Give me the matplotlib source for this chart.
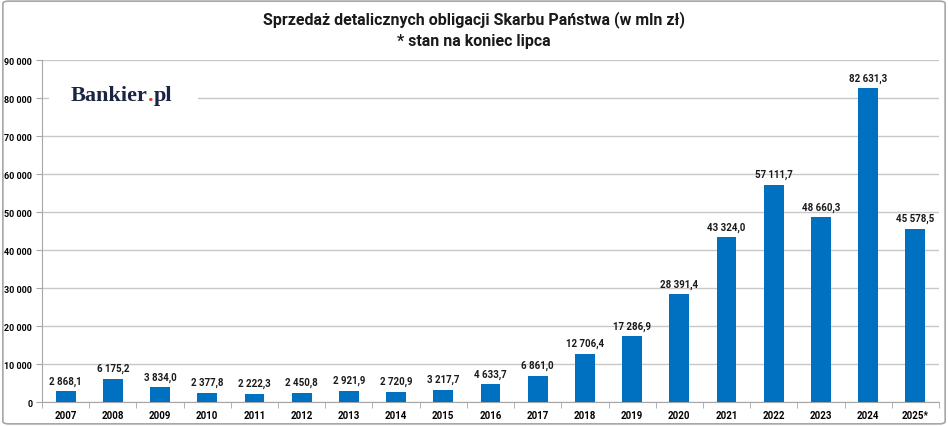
import matplotlib.pyplot as plt
from matplotlib.patches import FancyBboxPatch
import numpy as np

years = ['2007', '2008', '2009', '2010', '2011', '2012', '2013', '2014', '2015', '2016',
         '2017', '2018', '2019', '2020', '2021', '2022', '2023', '2024', '2025*']
sales = [2868.1, 6175.2, 3834.0, 2377.8, 2222.3, 2450.8, 2921.9, 2720.9, 3217.7, 4633.7,
         6861.0, 12706.4, 17286.9, 28391.4, 43324.0, 57111.7, 48660.3, 82631.3, 45578.5]
yticks = list(range(0, 90001, 10000))

plt.rcParams['font.family'] = ['Roboto', 'DejaVu Sans']


def fmt_num(v, dec):
    s = f'{v:,.{dec}f}'
    return s.replace(',', ' ').replace('.', ',')


fig = plt.figure(figsize=(9.48, 4.27), dpi=100)
fig.patches.append(FancyBboxPatch((0.003, 0.005), 0.994, 0.99, boxstyle='round,pad=0,rounding_size=0.006',
                                  transform=fig.transFigure, facecolor='white', edgecolor='#a6a6a6',
                                  linewidth=1.2, zorder=-10))
ax = fig.add_axes([0.0443, 0.0562, 0.9462, 0.8008])
ax.set_facecolor('none')

x = np.arange(len(years))
ax.bar(x, sales, width=0.42, color='#0070c0', zorder=3)
for xi, v in zip(x, sales):
    ax.annotate(fmt_num(v, 1), (xi, v), xytext=(0, 4), textcoords='offset points',
                ha='center', va='bottom', fontsize=7, fontweight='bold', color='#1a1a1a')

ax.set_xlim(-0.5, len(years) - 0.5)
ax.set_ylim(0, 90000)
ax.set_yticks(yticks)
ax.set_yticklabels([fmt_num(t, 0) for t in yticks], fontsize=6.5, fontweight='bold')
ax.set_xticks(x)
ax.set_xticklabels(years, fontsize=7, fontweight='bold')
ax.set_xticks(np.arange(-0.5, len(years), 1), minor=True)
ax.tick_params(axis='x', which='major', length=0, pad=6)
ax.tick_params(axis='x', which='minor', length=4, color='#a6a6a6')
ax.tick_params(axis='y', length=4, color='#a6a6a6', pad=3)
ax.grid(axis='y', color='#c8c8c8', linewidth=1.0, zorder=0)
for s in ['top', 'right']:
    ax.spines[s].set_visible(False)
for s in ['left', 'bottom']:
    ax.spines[s].set_color('#a6a6a6')

fig.text(0.5, 0.955, 'Sprzedaż detalicznych obligacji Skarbu Państwa (w mln zł)', ha='center', va='center',
         fontsize=11.5, fontweight='bold', color='#1a1a1a')
fig.text(0.5, 0.903, '* stan na koniec lipca', ha='center', va='center',
         fontsize=11.5, fontweight='bold', color='#1a1a1a')

# logo
logo_bg = plt.Rectangle((0.052, 0.73), 0.157, 0.075, transform=fig.transFigure,
                        facecolor='white', edgecolor='none', zorder=5)
fig.patches.append(logo_bg)
logo_y = 0.776
t1 = fig.text(0.075, logo_y, 'Bankier', ha='left', va='center', fontsize=16, fontweight='bold',
              family='Liberation Serif', color='#1b2442', zorder=6)
fig.canvas.draw()
r = fig.canvas.get_renderer()
bb = t1.get_window_extent(r)
t2 = fig.text(bb.x1 / fig.bbox.width, logo_y, '.', ha='left', va='center', fontsize=16, fontweight='bold',
              family='Liberation Serif', color='#e2401c', zorder=6)
bb2 = t2.get_window_extent(r)
fig.text(bb2.x1 / fig.bbox.width, logo_y, 'pl', ha='left', va='center', fontsize=16, fontweight='bold',
         family='Liberation Serif', color='#1b2442', zorder=6)

fig.savefig('out.png', dpi=100)
